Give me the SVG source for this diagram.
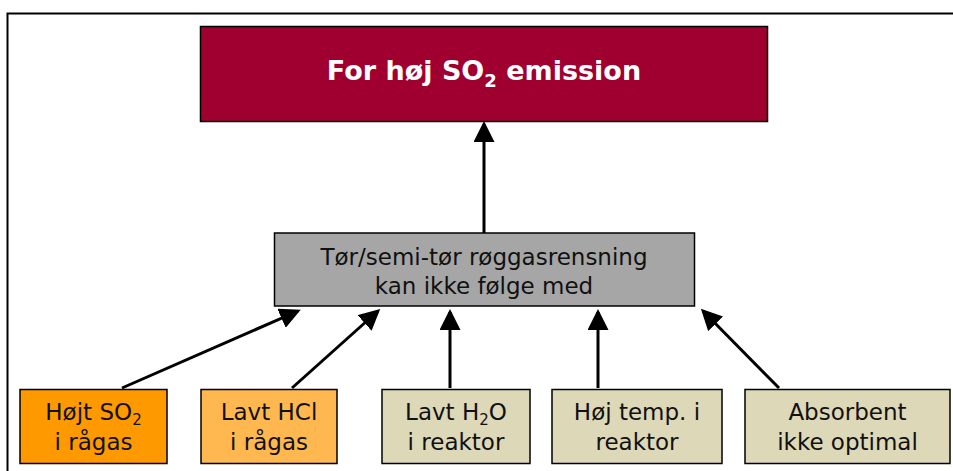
<svg xmlns="http://www.w3.org/2000/svg" width="953" height="471" viewBox="0 0 953 471">
<style>
.box{stroke:#000;stroke-width:1.5}
.t{font-family:"DejaVu Sans",Verdana,sans-serif;font-size:23px;fill:#111;text-anchor:middle}
.h{font-family:"DejaVu Sans",Verdana,sans-serif;font-size:27px;font-weight:bold;fill:#fff;text-anchor:middle}
.c{stroke:#000;stroke-width:3;fill:none;marker-end:url(#ah)}
</style>
<defs>
<marker id="ah" markerWidth="7" markerHeight="7" refX="6" refY="3.5" orient="auto" markerUnits="strokeWidth" viewBox="0 0 7 7">
<path d="M0,0 L7,3.5 L0,7 z" fill="#000"/>
</marker>
</defs>
<rect width="953" height="471" fill="#fff"/>
<path d="M7.5,480 V13.5 H960" fill="none" stroke="#000" stroke-width="2"/>
<g id="connectors">
<line class="c" x1="484" y1="233" x2="484" y2="124"/>
<line class="c" x1="122" y1="388" x2="298" y2="311"/>
<line class="c" x1="292" y1="388" x2="378" y2="311"/>
<line class="c" x1="450" y1="388" x2="450" y2="312"/>
<line class="c" x1="598" y1="388" x2="598" y2="312"/>
<line class="c" x1="779" y1="388" x2="703" y2="311"/>
</g>
<g id="top">
<rect class="box" x="200.5" y="26.5" width="567" height="95" fill="#A00030"/>
<text class="h" x="484" y="80">For høj SO<tspan font-size="18" dy="7">2</tspan><tspan dy="-7"> emission</tspan></text>
</g>
<g id="mid">
<rect class="box" x="274.5" y="233" width="420" height="73" fill="#A6A6A6"/>
<text class="t" x="484" y="265">Tør/semi-tør røggasrensning</text>
<text class="t" x="484" y="294">kan ikke følge med</text>
</g>
<g id="b1">
<rect class="box" x="20" y="389.5" width="147" height="74" fill="#FF9900"/>
<text class="t" x="93.5" y="420">Højt SO<tspan font-size="15" dy="5">2</tspan></text>
<text class="t" x="93.5" y="450">i rågas</text>
</g>
<g id="b2">
<rect class="box" x="201" y="389.5" width="136" height="74" fill="#FFB84F"/>
<text class="t" x="269" y="420">Lavt HCl</text>
<text class="t" x="269" y="450">i rågas</text>
</g>
<g id="b3">
<rect class="box" x="382" y="389.5" width="148" height="74" fill="#DDD8B8"/>
<text class="t" x="456" y="420">Lavt H<tspan font-size="15" dy="5">2</tspan><tspan dy="-5">O</tspan></text>
<text class="t" x="456" y="450">i reaktor</text>
</g>
<g id="b4">
<rect class="box" x="552" y="389.5" width="170" height="74" fill="#DDD8B8"/>
<text class="t" x="637" y="420">Høj temp. i</text>
<text class="t" x="637" y="450">reaktor</text>
</g>
<g id="b5">
<rect class="box" x="745" y="389.5" width="205" height="74" fill="#DDD8B8"/>
<text class="t" x="847.5" y="420">Absorbent</text>
<text class="t" x="847.5" y="450">ikke optimal</text>
</g>
</svg>
